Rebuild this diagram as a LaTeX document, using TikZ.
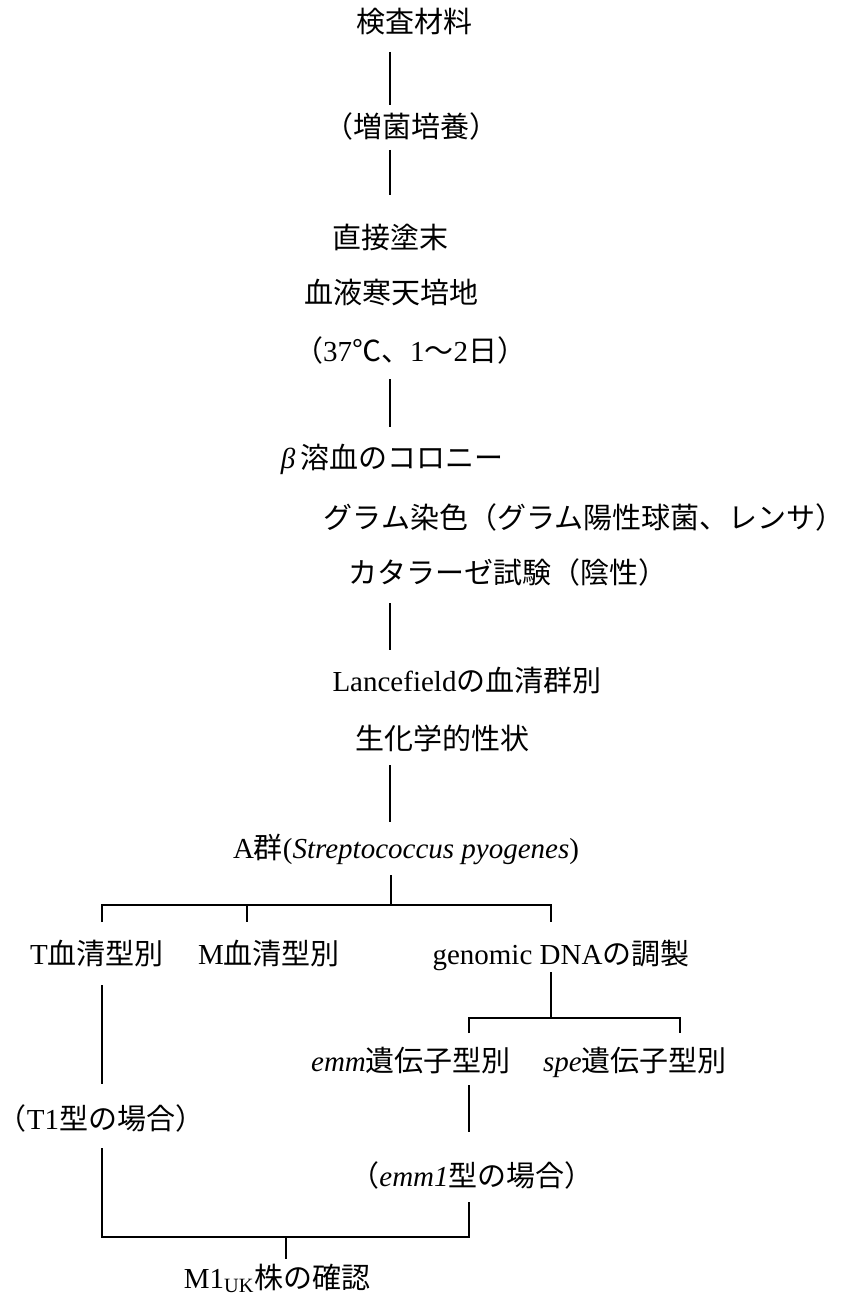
\documentclass[tikz,border=0pt]{standalone}
\usepackage{fontspec}
\setmainfont{Liberation Serif}
\newfontfamily\jp{Noto Sans CJK JP}
\newcommand{\ja}[1]{{\jp #1}}

\begin{document}
\begin{tikzpicture}[x=0.75pt,y=-0.75pt,
  every node/.style={font=\fontsize{21.75}{26}\selectfont,inner sep=0pt,anchor=base},
  conn/.style={line width=1.4pt},
  thinconn/.style={line width=0.9pt}]
\useasboundingbox (0,0) rectangle (845,1298);
% texts
\node (t0) at (414,33) {\ja{検査材料}};
\node (t1) at (411,138) {\ja{（増菌培養）}};
\node (t2) at (390,248) {\ja{直接塗末}};
\node (t3) at (391,303) {\ja{血液寒天培地}};
\node (t4) at (410,361) {\ja{（}37\ja{℃、}1\ja{～}2\ja{日）}};
\node (t5) at (392,468) {\textit{β}\,\ja{溶血のコロニー}};
\node (t6) at (584,528) {\ja{グラム染色（グラム陽性球菌、レンサ）}};
\node (t7) at (508,583) {\ja{カタラーゼ試験（陰性）}};
\node (t8) at (467,691) {Lancefield\ja{の血清群別}};
\node (t9) at (442,749) {\ja{生化学的性状}};
\node (t10) at (406,858) {A\ja{群}(\textit{Streptococcus pyogenes})};
\node (t11) at (97,964) {T\ja{血清型別}};
\node (t12) at (269,964) {M\ja{血清型別}};
\node (t13) at (561,964) {genomic DNA\ja{の調製}};
\node (t14) at (411,1071) {\textit{emm}\ja{遺伝子型別}};
\node (t15) at (635,1071) {\textit{spe}\ja{遺伝子型別}};
\node (t16) at (101,1129) {\ja{（}T1\ja{型の場合）}};
\node (t17) at (472,1186) {\ja{（}\textit{emm1}\ja{型の場合）}};
\node (t18) at (277,1288) {M1\textsubscript{UK}\ja{株の確認}};
% main line
\coordinate (a1) at (390,52);   \coordinate (b1) at (390,105);
\coordinate (a2) at (390,150);  \coordinate (b2) at (390,195);
\coordinate (a3) at (390,379);  \coordinate (b3) at (390,427);
\coordinate (a4) at (390,603);  \coordinate (b4) at (390,650);
\coordinate (a5) at (390,765);  \coordinate (b5) at (390,822);
\coordinate (a6) at (391,875);  \coordinate (b6) at (391,905);
\draw[conn] (a1) -- (b1);
\draw[conn] (a2) -- (b2);
\draw[conn] (a3) -- (b3);
\draw[conn] (a4) -- (b4);
\draw[conn] (a5) -- (b5);
\draw[conn] (a6) -- (b6);
% first branch
\coordinate (k1) at (102,905); \coordinate (k2) at (247,905); \coordinate (k3) at (551,905);
\draw[conn] (k1 |- 0,922) -- (k1) -- (k3) -- (k3 |- 0,922);
\draw[conn] (k2) -- (k2 |- 0,922);
% genomic branch
\coordinate (g0) at (551,972); \coordinate (g1) at (551,1018);
\coordinate (e1) at (469,1018); \coordinate (s1) at (680,1018);
\draw[conn] (g0) -- (g1);
\draw[conn] (e1 |- 0,1033) -- (e1) -- (s1) -- (s1 |- 0,1033);
% to the end
\coordinate (ta) at (102,985);  \coordinate (tb) at (102,1084);
\coordinate (tc) at (102,1148); \coordinate (td) at (102,1237);
\coordinate (ea) at (469,1085); \coordinate (eb) at (469,1132);
\coordinate (ec) at (469,1202); \coordinate (ed) at (469,1237);
\coordinate (m0) at (286,1237); \coordinate (m1) at (286,1259);
\draw[conn] (ta) -- (tb);
\draw[thinconn] (ea) -- (eb);
\draw[conn] (tc) -- (td) -- (ed) -- (ec);
\draw[conn] (m0) -- (m1);
\end{tikzpicture}
\end{document}
